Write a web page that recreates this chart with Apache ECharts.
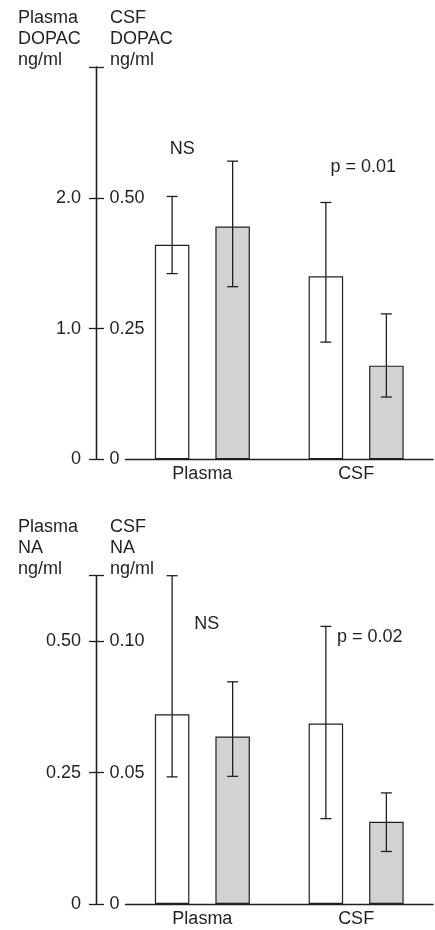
<!DOCTYPE html>
<html><head><meta charset="utf-8">
<script src="https://cdn.jsdelivr.net/npm/echarts@6/dist/echarts.min.js"></script>
<style>html,body{margin:0;padding:0;background:#fff}#c{width:435px;height:930px}</style>
</head><body><div id="c"></div>
<script>
// ---------- data ----------
const categories = ['Plasma', 'CSF'];
// Panel 1: DOPAC (Plasma values on left scale, CSF values on right scale), ng/ml
const dopacControl      = [1.64, 0.350];
const dopacControlLow   = [1.42, 0.224];
const dopacControlHigh  = [2.01, 0.491];
const dopacPatient      = [1.78, 0.179];
const dopacPatientLow   = [1.32, 0.119];
const dopacPatientHigh  = [2.28, 0.278];
// Panel 2: NA, ng/ml
const naControl      = [0.361, 0.0687];
const naControlLow   = [0.242, 0.0325];
const naControlHigh  = [0.625, 0.1057];
const naPatient      = [0.319, 0.0313];
const naPatientLow   = [0.243, 0.0200];
const naPatientHigh  = [0.423, 0.0423];
// axis scales
const dopacPlasmaAxis = {min: 0, max: 3.0, interval: 1.0, decimals: 1};
const dopacCsfAxis    = {min: 0, max: 0.75, interval: 0.25, decimals: 2};
const naPlasmaAxis    = {min: 0, max: 0.625, interval: 0.25, decimals: 2};
const naCsfAxis       = {min: 0, max: 0.125, interval: 0.05, decimals: 2};
const annotations1 = ['NS', 'p = 0.01'];
const annotations2 = ['NS', 'p = 0.02'];
const headers1 = ['Plasma\nDOPAC\nng/ml', 'CSF\nDOPAC\nng/ml'];
const headers2 = ['Plasma\nNA\nng/ml', 'CSF\nNA\nng/ml'];

// ---------- style ----------
const INK = '#231f20';
const GRAY = '#d1d2d4';
const FONT = '"Liberation Sans", Arial, Helvetica, sans-serif';
const FS = 18;
const BAR_W = 34.5;
const BAR_GAP_PX = 26;
const CAP = 5.5;

function yAxisDef(grid, sc, csf) {
  return {
    type: 'value', gridIndex: grid, position: 'left', offset: 29,
    min: sc.min, max: sc.max, interval: sc.interval,
    axisLine: {show: true, lineStyle: {color: INK, width: 1.3}},
    axisTick: {show: true, inside: csf, length: 7.5, lineStyle: {color: INK, width: 1.3}},
    splitLine: {show: false},
    axisLabel: {
      inside: csf, margin: csf ? 13 : 15.5, color: INK, fontSize: FS, fontFamily: FONT,
      formatter: function (v) {
        if (Math.abs(v - sc.max) < 1e-9) return '';
        if (v === 0) return '0';
        return v.toFixed(sc.decimals);
      }
    }
  };
}
function xAxisDef(grid) {
  return {
    type: 'category', gridIndex: grid, data: categories,
    axisLine: {show: true, lineStyle: {color: INK, width: 1.3}},
    axisTick: {show: false},
    axisLabel: {color: INK, fontSize: FS, fontFamily: FONT, margin: 6}
  };
}
function barSeries(grid, yIdx, stack, vals, catIdx, fill) {
  const data = categories.map((c, i) => i === catIdx ? vals[i] : '-');
  return {
    type: 'bar', xAxisIndex: grid, yAxisIndex: yIdx, stack: stack,
    barWidth: BAR_W, barGap: (BAR_GAP_PX / BAR_W * 100) + '%',
    data: data, silent: true,
    itemStyle: {color: fill, borderColor: INK, borderWidth: 1.2}
  };
}
function renderErr(params, api) {
  const lo = api.coord([api.value(0), api.value(1)]);
  const hi = api.coord([api.value(0), api.value(2)]);
  const x = lo[0] + api.value(3) * (BAR_W + BAR_GAP_PX) / 2;
  const st = {stroke: INK, lineWidth: 1.3};
  return {type: 'group', children: [
    {type: 'line', shape: {x1: x, y1: lo[1], x2: x, y2: hi[1]}, style: st},
    {type: 'line', shape: {x1: x - CAP, y1: lo[1], x2: x + CAP, y2: lo[1]}, style: st},
    {type: 'line', shape: {x1: x - CAP, y1: hi[1], x2: x + CAP, y2: hi[1]}, style: st}
  ]};
}
function errSeries(grid, yIdx, catIdx, cLow, cHigh, pLow, pHigh) {
  return {
    type: 'custom', xAxisIndex: grid, yAxisIndex: yIdx, clip: false, silent: true, z: 5,
    renderItem: renderErr, encode: {x: 0, y: [1, 2]},
    data: [[catIdx, cLow[catIdx], cHigh[catIdx], -1], [catIdx, pLow[catIdx], pHigh[catIdx], 1]]
  };
}
function txt(x, y, s, align, vAlign) {
  return {type: 'text', x: x, y: y, silent: true,
    style: {text: s, fill: INK, fontSize: FS, fontFamily: FONT, lineHeight: 21.4,
            align: align, verticalAlign: vAlign}};
}

const option = {
  animation: false,
  backgroundColor: '#fff',
  grid: [
    {left: 125.5, width: 307.5, top: 67, height: 392.3, outerBoundsMode: 'none', containLabel: false},
    {left: 125.5, width: 307.5, top: 575.7, height: 328.3, outerBoundsMode: 'none', containLabel: false}
  ],
  xAxis: [xAxisDef(0), xAxisDef(1)],
  yAxis: [
    yAxisDef(0, dopacPlasmaAxis, false), yAxisDef(0, dopacCsfAxis, true),
    yAxisDef(1, naPlasmaAxis, false), yAxisDef(1, naCsfAxis, true)
  ],
  series: [
    barSeries(0, 0, 'p1c', dopacControl, 0, '#ffffff'),
    barSeries(0, 1, 'p1c', dopacControl, 1, '#ffffff'),
    barSeries(0, 0, 'p1p', dopacPatient, 0, GRAY),
    barSeries(0, 1, 'p1p', dopacPatient, 1, GRAY),
    errSeries(0, 0, 0, dopacControlLow, dopacControlHigh, dopacPatientLow, dopacPatientHigh),
    errSeries(0, 1, 1, dopacControlLow, dopacControlHigh, dopacPatientLow, dopacPatientHigh),
    barSeries(1, 2, 'p2c', naControl, 0, '#ffffff'),
    barSeries(1, 3, 'p2c', naControl, 1, '#ffffff'),
    barSeries(1, 2, 'p2p', naPatient, 0, GRAY),
    barSeries(1, 3, 'p2p', naPatient, 1, GRAY),
    errSeries(1, 2, 0, naControlLow, naControlHigh, naPatientLow, naPatientHigh),
    errSeries(1, 3, 1, naControlLow, naControlHigh, naPatientLow, naPatientHigh)
  ],
  graphic: [
    txt(18, 7, headers1[0], 'left', 'top'),
    txt(110, 7, headers1[1], 'left', 'top'),
    txt(18, 516, headers2[0], 'left', 'top'),
    txt(110, 516, headers2[1], 'left', 'top'),
    txt(182.3, 149.5, annotations1[0], 'center', 'middle'),
    txt(363.3, 167.5, annotations1[1], 'center', 'middle'),
    txt(206.7, 624.5, annotations2[0], 'center', 'middle'),
    txt(369.7, 637, annotations2[1], 'center', 'middle')
  ]
};
const chart = echarts.init(document.getElementById('c'), null, {renderer: 'canvas'});
chart.setOption(option);
</script>
</body></html>
